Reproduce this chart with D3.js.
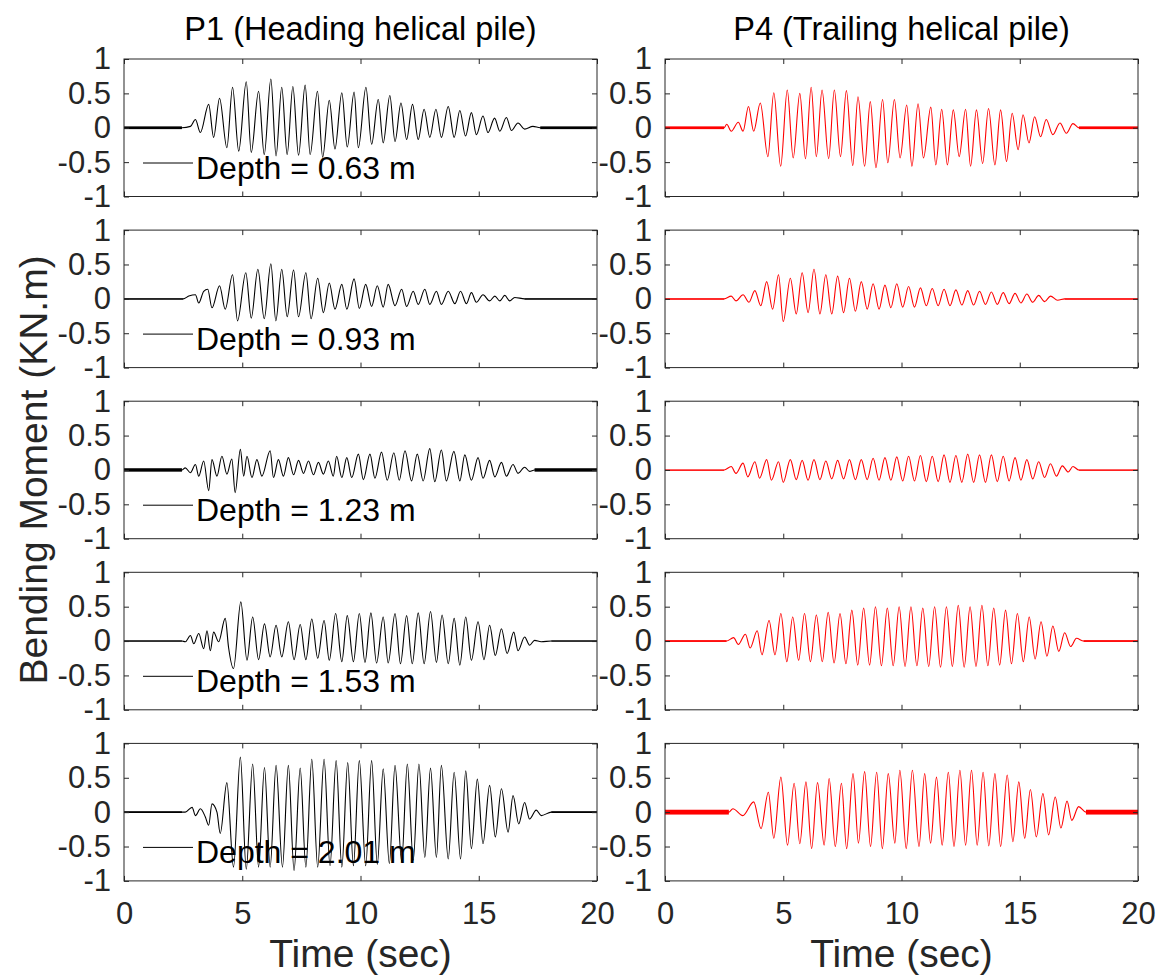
<!DOCTYPE html>
<html>
<head>
<meta charset="utf-8">
<script src="https://cdn.jsdelivr.net/npm/d3@7"></script>
<style>
html,body{margin:0;padding:0;background:#fff;}
svg text{font-family:"Liberation Sans",Arial,Helvetica,sans-serif;fill:#262626;}
</style>
</head>
<body>
<svg id="chart" width="1159" height="978"></svg>
<script>
// ---------------- data ----------------
const timeTicks = [0, 5, 10, 15, 20];
const momentTicks = [1, 0.5, 0, -0.5, -1];
const depthLabels = ["0.63", "0.93", "1.23", "1.53", "2.01"];
const columnTitles = ["P1 (Heading helical pile)", "P4 (Trailing helical pile)"];
const xLabel = "Time (sec)";
const yLabel = "Bending Moment (KN.m)";

// P1 series: [time (s), moment (kN.m)] read at peaks and troughs
const p1_d063 = [[0,0],[2.45,0],[2.81,0.02],[3.02,0.12],[3.23,-0.07],[3.58,0.34],[3.79,-0.14],[4.04,0.43],[4.35,-0.29],[4.59,0.59],[4.85,-0.34],[5.17,0.67],[5.38,-0.36],[5.69,0.53],[5.93,-0.39],[6.21,0.71],[6.43,-0.41],[6.67,0.59],[6.90,-0.39],[7.14,0.60],[7.38,-0.40],[7.66,0.62],[7.87,-0.39],[8.18,0.53],[8.40,-0.43],[8.68,0.40],[8.92,-0.31],[9.21,0.51],[9.44,-0.28],[9.73,0.52],[9.91,-0.29],[10.23,0.59],[10.47,-0.24],[10.75,0.41],[10.96,-0.22],[11.24,0.47],[11.46,-0.20],[11.71,0.36],[11.95,-0.17],[12.20,0.34],[12.44,-0.17],[12.69,0.27],[12.93,-0.14],[13.19,0.27],[13.42,-0.14],[13.71,0.31],[13.96,-0.14],[14.20,0.25],[14.44,-0.12],[14.69,0.22],[14.90,-0.10],[15.18,0.17],[15.39,-0.07],[15.67,0.14],[15.89,-0.05],[16.17,0.15],[16.38,-0.04],[16.66,0.07],[16.94,-0.02],[17.29,0.02],[17.6,0],[20,0]];
const p1_d093 = [[0,0],[2.5,0],[2.74,0.04],[3.02,0.06],[3.16,-0.06],[3.37,0.11],[3.54,0.14],[3.72,-0.13],[4.04,0.19],[4.28,-0.15],[4.59,0.35],[4.80,-0.32],[5.15,0.38],[5.38,-0.28],[5.66,0.43],[5.93,-0.29],[6.21,0.51],[6.42,-0.32],[6.67,0.43],[6.90,-0.26],[7.17,0.42],[7.38,-0.26],[7.69,0.38],[7.91,-0.29],[8.19,0.30],[8.43,-0.20],[8.68,0.23],[8.92,-0.15],[9.21,0.21],[9.42,-0.15],[9.73,0.29],[9.95,-0.14],[10.22,0.21],[10.47,-0.11],[10.71,0.19],[10.96,-0.12],[11.17,0.21],[11.46,-0.10],[11.74,0.14],[11.95,-0.11],[12.23,0.11],[12.44,-0.08],[12.72,0.14],[12.93,-0.08],[13.21,0.11],[13.42,-0.08],[13.71,0.11],[13.99,-0.07],[14.23,0.11],[14.48,-0.07],[14.69,0.09],[14.90,-0.05],[15.18,0.06],[15.46,-0.03],[15.68,0.04],[15.89,-0.03],[16.10,0.05],[16.31,-0.03],[16.52,0.02],[16.94,0],[20,0]];
const p1_d123 = [[0,0],[2.45,0],[2.59,0.03],[2.81,-0.04],[3.02,0.08],[3.16,-0.09],[3.37,0.13],[3.58,-0.30],[3.72,0.15],[3.93,-0.09],[4.14,0.20],[4.35,-0.06],[4.56,0.16],[4.70,-0.33],[4.92,0.30],[5.06,-0.09],[5.20,0.20],[5.41,-0.11],[5.62,0.15],[5.83,-0.09],[6.18,0.28],[6.32,-0.11],[6.53,0.15],[6.74,-0.09],[6.95,0.18],[7.17,-0.07],[7.38,0.14],[7.59,-0.05],[7.80,0.13],[8.01,-0.07],[8.22,0.11],[8.43,-0.06],[8.64,0.13],[8.85,-0.09],[8.99,0.20],[9.21,-0.11],[9.42,0.18],[9.63,-0.11],[9.91,0.23],[10.12,-0.14],[10.40,0.23],[10.61,-0.12],[10.89,0.26],[11.13,-0.15],[11.41,0.25],[11.64,-0.15],[11.88,0.28],[12.16,-0.16],[12.40,0.23],[12.65,-0.16],[12.93,0.31],[13.14,-0.17],[13.42,0.29],[13.63,-0.16],[13.95,0.27],[14.20,-0.16],[14.41,0.22],[14.69,-0.15],[14.97,0.18],[15.18,-0.12],[15.46,0.14],[15.68,-0.10],[15.96,0.11],[16.17,-0.09],[16.45,0.08],[16.66,-0.05],[16.94,0.04],[17.15,-0.02],[17.36,0],[20,0]];
const p1_d153 = [[0,0],[2.45,0],[2.59,-0.01],[2.81,0.08],[2.95,-0.04],[3.16,0.11],[3.37,-0.11],[3.51,0.15],[3.65,-0.14],[3.79,0.13],[4.00,-0.01],[4.28,0.33],[4.42,-0.09],[4.63,-0.40],[4.94,0.57],[5.20,-0.28],[5.44,0.35],[5.69,-0.27],[5.94,0.25],[6.18,-0.23],[6.43,0.23],[6.67,-0.23],[6.95,0.28],[7.19,-0.27],[7.45,0.24],[7.69,-0.27],[7.94,0.32],[8.19,-0.25],[8.46,0.30],[8.68,-0.28],[8.95,0.40],[9.21,-0.30],[9.44,0.37],[9.70,-0.30],[9.95,0.40],[10.19,-0.31],[10.44,0.41],[10.68,-0.32],[10.96,0.35],[11.17,-0.32],[11.46,0.40],[11.69,-0.33],[11.95,0.37],[12.19,-0.33],[12.44,0.41],[12.69,-0.33],[12.96,0.43],[13.21,-0.31],[13.45,0.38],[13.71,-0.33],[13.96,0.33],[14.20,-0.35],[14.45,0.35],[14.69,-0.28],[14.97,0.28],[15.22,-0.27],[15.46,0.23],[15.70,-0.21],[15.96,0.18],[16.20,-0.18],[16.48,0.13],[16.66,-0.14],[16.94,0.06],[17.15,-0.06],[17.36,0.01],[17.64,-0.01],[18.07,0],[20,0]];
const p1_d201 = [[0,0],[2.45,0],[2.59,0],[2.88,0.07],[3.02,-0.05],[3.23,0.05],[3.44,-0.07],[3.58,-0.19],[3.72,0.12],[3.93,0],[4.07,-0.31],[4.35,0.43],[4.63,-0.80],[4.92,0.80],[5.17,-0.83],[5.44,0.70],[5.69,-0.80],[5.94,0.65],[6.18,-0.80],[6.43,0.68],[6.70,-0.80],[6.95,0.68],[7.19,-0.85],[7.45,0.64],[7.69,-0.80],[7.94,0.77],[8.19,-0.80],[8.46,0.77],[8.71,-0.78],[8.97,0.75],[9.21,-0.80],[9.46,0.72],[9.70,-0.78],[9.95,0.75],[10.22,-0.78],[10.47,0.75],[10.71,-0.76],[10.96,0.63],[11.22,-0.75],[11.46,0.68],[11.74,-0.72],[11.98,0.70],[12.23,-0.70],[12.47,0.70],[12.72,-0.66],[12.96,0.64],[13.21,-0.66],[13.42,0.68],[13.71,-0.68],[13.96,0.58],[14.23,-0.68],[14.45,0.60],[14.69,-0.53],[14.94,0.48],[15.18,-0.46],[15.46,0.39],[15.70,-0.36],[15.96,0.34],[16.24,-0.29],[16.45,0.24],[16.69,-0.17],[16.94,0.14],[17.15,-0.10],[17.43,0.03],[17.64,-0.05],[18.07,0],[20,0]];

// P4 series
const p4_d063 = [[0,0],[2.5,0],[2.61,0.05],[2.8,-0.05],[3.1,0.08],[3.3,-0.05],[3.53,0.31],[3.75,-0.05],[4.03,0.36],[4.35,-0.42],[4.6,0.51],[4.89,-0.56],[5.17,0.55],[5.42,-0.44],[5.7,0.50],[5.94,-0.45],[6.18,0.59],[6.40,-0.42],[6.64,0.55],[6.92,-0.45],[7.16,0.55],[7.42,-0.42],[7.67,0.54],[7.94,-0.55],[8.16,0.45],[8.44,-0.56],[8.68,0.38],[8.92,-0.58],[9.2,0.41],[9.42,-0.51],[9.7,0.41],[9.94,-0.44],[10.22,0.33],[10.44,-0.56],[10.7,0.35],[10.93,-0.44],[11.24,0.30],[11.45,-0.54],[11.7,0.27],[11.94,-0.54],[12.19,0.26],[12.44,-0.42],[12.71,0.27],[12.92,-0.56],[13.17,0.26],[13.43,-0.52],[13.68,0.28],[13.95,-0.54],[14.19,0.26],[14.44,-0.49],[14.68,0.21],[14.93,-0.32],[15.14,0.19],[15.39,-0.22],[15.63,0.16],[15.88,-0.13],[16.12,0.12],[16.40,-0.10],[16.7,0.07],[16.97,-0.08],[17.25,0.06],[17.5,0],[20,0]];
const p4_d093 = [[0,0],[2.5,0],[2.8,0.04],[3.0,-0.03],[3.3,0.06],[3.55,-0.05],[3.8,0.12],[4.05,-0.10],[4.3,0.25],[4.55,-0.15],[4.8,0.35],[5.0,-0.33],[5.3,0.30],[5.55,-0.22],[5.8,0.38],[6.05,-0.20],[6.3,0.43],[6.55,-0.22],[6.8,0.35],[7.05,-0.22],[7.3,0.33],[7.55,-0.20],[7.8,0.30],[8.05,-0.18],[8.3,0.25],[8.55,-0.15],[8.8,0.22],[9.05,-0.15],[9.3,0.20],[9.55,-0.13],[9.8,0.22],[10.05,-0.12],[10.3,0.18],[10.55,-0.12],[10.8,0.16],[11.05,-0.10],[11.3,0.15],[11.55,-0.10],[11.8,0.14],[12.05,-0.10],[12.3,0.13],[12.55,-0.09],[12.8,0.12],[13.05,-0.09],[13.3,0.11],[13.55,-0.08],[13.8,0.10],[14.05,-0.08],[14.3,0.09],[14.55,-0.07],[14.8,0.08],[15.05,-0.06],[15.3,0.07],[15.55,-0.05],[15.8,0.05],[16.05,-0.04],[16.3,0.04],[16.6,-0.02],[16.9,0],[20,0]];
const p4_d123 = [[0,0],[2.5,0],[2.8,0.05],[3.0,-0.05],[3.3,0.10],[3.5,-0.10],[3.8,0.12],[4.0,-0.12],[4.3,0.15],[4.5,-0.15],[4.8,0.12],[5.0,-0.18],[5.3,0.15],[5.55,-0.14],[5.8,0.14],[6.05,-0.15],[6.3,0.15],[6.55,-0.14],[6.8,0.13],[7.05,-0.13],[7.3,0.14],[7.55,-0.13],[7.8,0.15],[8.05,-0.14],[8.3,0.15],[8.55,-0.14],[8.8,0.17],[9.05,-0.15],[9.3,0.18],[9.55,-0.15],[9.8,0.19],[10.05,-0.16],[10.3,0.20],[10.55,-0.16],[10.8,0.21],[11.05,-0.17],[11.3,0.20],[11.55,-0.17],[11.8,0.22],[12.05,-0.18],[12.3,0.21],[12.55,-0.18],[12.8,0.23],[13.05,-0.18],[13.3,0.22],[13.55,-0.18],[13.8,0.22],[14.05,-0.17],[14.3,0.20],[14.55,-0.16],[14.8,0.18],[15.05,-0.15],[15.3,0.15],[15.55,-0.13],[15.8,0.12],[16.05,-0.11],[16.3,0.09],[16.55,-0.09],[16.8,0.06],[17.05,-0.03],[17.25,0.05],[17.5,0],[20,0]];
const p4_d153 = [[0,0],[2.6,0],[2.9,0.05],[3.1,-0.05],[3.4,0.10],[3.6,-0.10],[3.9,0.15],[4.1,-0.20],[4.4,0.30],[4.65,-0.20],[4.9,0.40],[5.15,-0.30],[5.4,0.35],[5.65,-0.28],[5.9,0.40],[6.15,-0.30],[6.4,0.38],[6.65,-0.30],[6.9,0.42],[7.15,-0.32],[7.4,0.40],[7.65,-0.33],[7.9,0.45],[8.15,-0.35],[8.4,0.48],[8.65,-0.35],[8.9,0.50],[9.15,-0.36],[9.4,0.48],[9.65,-0.36],[9.9,0.50],[10.15,-0.37],[10.4,0.50],[10.65,-0.36],[10.9,0.48],[11.15,-0.37],[11.4,0.50],[11.65,-0.38],[11.9,0.50],[12.15,-0.37],[12.4,0.52],[12.65,-0.38],[12.9,0.50],[13.15,-0.37],[13.4,0.52],[13.65,-0.36],[13.9,0.48],[14.15,-0.35],[14.4,0.45],[14.65,-0.33],[14.9,0.40],[15.15,-0.30],[15.4,0.35],[15.65,-0.26],[15.9,0.28],[16.15,-0.22],[16.4,0.22],[16.65,-0.15],[16.9,0.12],[17.15,-0.08],[17.4,0.04],[17.7,0],[20,0]];
const p4_d201 = [[0,0],[2.7,0],[2.87,0.05],[3.29,-0.05],[3.75,0.15],[4.06,-0.24],[4.37,0.29],[4.6,-0.38],[4.9,0.51],[5.18,-0.48],[5.46,0.42],[5.7,-0.46],[5.96,0.44],[6.2,-0.53],[6.45,0.43],[6.73,-0.48],[6.94,0.49],[7.2,-0.50],[7.46,0.42],[7.68,-0.53],[7.95,0.56],[8.18,-0.45],[8.44,0.59],[8.69,-0.50],[8.95,0.58],[9.19,-0.53],[9.44,0.56],[9.72,-0.45],[9.93,0.61],[10.2,-0.53],[10.46,0.61],[10.74,-0.50],[10.98,0.56],[11.23,-0.45],[11.48,0.51],[11.72,-0.48],[11.98,0.58],[12.22,-0.50],[12.47,0.61],[12.71,-0.48],[12.96,0.61],[13.2,-0.48],[13.45,0.58],[13.69,-0.49],[13.95,0.56],[14.19,-0.50],[14.47,0.54],[14.71,-0.43],[14.96,0.44],[15.21,-0.38],[15.45,0.33],[15.7,-0.36],[15.98,0.27],[16.22,-0.33],[16.5,0.22],[16.74,-0.23],[17.0,0.16],[17.2,-0.12],[17.49,0.08],[17.8,0],[20,0]];

// half-width of the noise band on the quiet parts of each trace (kN.m)
const p1Noise = [0.02, 0.004, 0.025, 0.008, 0.012];
const p4Noise = [0.02, 0.003, 0.003, 0.012, 0.035];

const p1Series = [p1_d063, p1_d093, p1_d123, p1_d153, p1_d201];
const p4Series = [p4_d063, p4_d093, p4_d123, p4_d153, p4_d201];

// ---------------- layout ----------------
const svg = d3.select("#chart");
const colX = [124, 665];
const plotW = 473;
const rowTop0 = 59, rowStep = 171.1, plotH = 137.5;
const fontTick = 31, fontTitle = 32.5, fontLegend = 32, fontLabel = 39;
const colColors = ["#000000", "#ff0000"];
const columns = [
  {series: p1Series, noise: p1Noise, color: colColors[0], legend: true},
  {series: p4Series, noise: p4Noise, color: colColors[1], legend: false}
];

columns.forEach((col, ci) => {
  const x0 = colX[ci];
  const x = d3.scaleLinear().domain([0, 20]).range([x0, x0 + plotW]);

  svg.append("text")
    .attr("x", x0 + plotW / 2).attr("y", 40)
    .attr("text-anchor", "middle")
    .style("font-size", fontTitle + "px")
    .style("fill", "#000")
    .text(columnTitles[ci]);

  col.series.forEach((data, ri) => {
    const top = rowTop0 + ri * rowStep;
    const y = d3.scaleLinear().domain([-1, 1]).range([top + plotH, top]);
    const g = svg.append("g");
    const clipId = `clip-${ci}-${ri}`;
    svg.append("clipPath").attr("id", clipId)
      .append("rect").attr("x", x0).attr("y", top).attr("width", plotW).attr("height", plotH);

    // noise band on quiet stretches
    const a = col.noise[ri];
    const quiet = [[0, data[1][0]], [data[data.length - 2][0], 20]];
    g.append("g").attr("clip-path", `url(#${clipId})`)
      .selectAll("rect").data(quiet).join("rect")
      .attr("x", d => x(d[0])).attr("width", d => x(d[1]) - x(d[0]))
      .attr("y", y(a)).attr("height", Math.max(1, y(-a) - y(a)))
      .attr("fill", col.color);

    const line = d3.line().x(d => x(d[0])).y(d => y(d[1])).curve(d3.curveMonotoneX);
    g.append("path").datum(data)
      .attr("clip-path", `url(#${clipId})`)
      .attr("fill", "none").attr("stroke", col.color).attr("stroke-width", 1.1)
      .attr("d", line);

    // axes with inward ticks (MATLAB style box)
    const tickLen = 5;
    const isBottom = ri === col.series.length - 1;
    const ax = svg.append("g").attr("class", "axis");
    ax.append("g").attr("transform", `translate(0,${top + plotH})`)
      .call(d3.axisBottom(x).tickValues(timeTicks).tickSizeInner(-tickLen).tickSizeOuter(0).tickPadding(21)
        .tickFormat(isBottom ? (d => String(d)) : () => ""));
    ax.append("g").attr("transform", `translate(0,${top})`)
      .call(d3.axisTop(x).tickValues(timeTicks).tickSizeInner(-tickLen).tickSizeOuter(0).tickFormat(() => ""));
    ax.append("g").attr("transform", `translate(${x0},0)`)
      .call(d3.axisLeft(y).tickValues(momentTicks).tickSizeInner(-tickLen).tickSizeOuter(0).tickPadding(13)
        .tickFormat(d => String(d)));
    ax.append("g").attr("transform", `translate(${x0 + plotW},0)`)
      .call(d3.axisRight(y).tickValues(momentTicks).tickSizeInner(-tickLen).tickSizeOuter(0).tickFormat(() => ""));
    ax.selectAll(".domain").remove();
    ax.selectAll(".tick line").attr("stroke", "#262626").attr("stroke-width", 1);
    ax.selectAll(".tick text").style("font-size", fontTick + "px").attr("fill", "#262626")
      .style("font-family", '"Liberation Sans",Arial,sans-serif');
    ax.append("rect").attr("x", x0).attr("y", top).attr("width", plotW).attr("height", plotH)
      .attr("fill", "none").attr("stroke", "#262626").attr("stroke-width", 1);

    if (col.legend) {
      const ly = top + 104;
      svg.append("line").attr("x1", x0 + 19).attr("x2", x0 + 69).attr("y1", ly).attr("y2", ly)
        .attr("stroke", col.color).attr("stroke-width", 1);
      svg.append("text").attr("x", x0 + 72).attr("y", top + 119.5)
        .style("font-size", fontLegend + "px").style("fill", "#000")
        .text(`Depth = ${depthLabels[ri]} m`);
    }
  });

  svg.append("text")
    .attr("x", x0 + plotW / 2).attr("y", 967)
    .attr("text-anchor", "middle")
    .style("font-size", fontLabel + "px")
    .text(xLabel);
});

svg.append("text")
  .attr("transform", `translate(47,${(rowTop0 + rowTop0 + 4 * rowStep + plotH) / 2}) rotate(-90)`)
  .attr("text-anchor", "middle")
  .style("font-size", fontLabel + "px")
  .text(yLabel);
</script>
</body>
</html>
